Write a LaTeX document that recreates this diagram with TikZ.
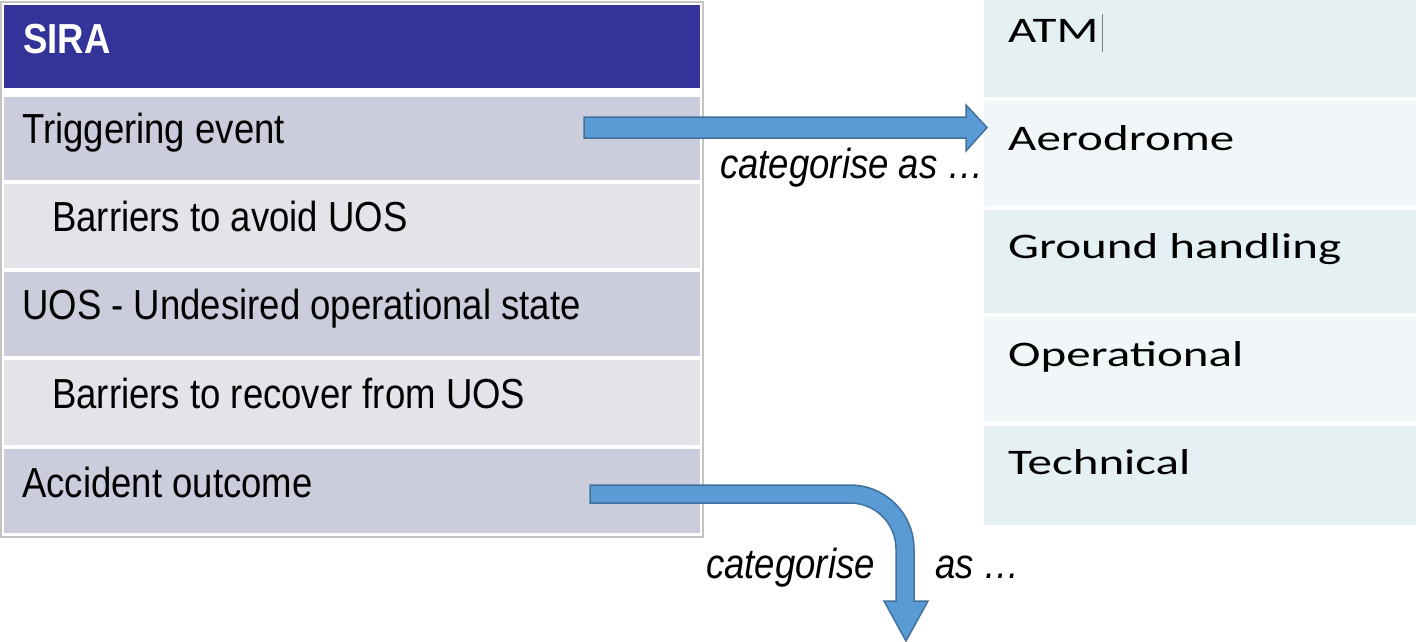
\documentclass[tikz,border=0pt]{standalone}
\usepackage{fontspec}
\setmainfont{Liberation Sans}
\newfontfamily\arialn[FakeStretch=0.87]{Liberation Sans}
\newfontfamily\calw[FakeStretch=1.36]{Carlito}
\definecolor{hdr}{HTML}{333399}
\definecolor{rowdark}{HTML}{CCCDDC}
\definecolor{rowlight}{HTML}{E3E4EA}
\definecolor{catdark}{HTML}{E5F0F3}
\definecolor{catlight}{HTML}{F1F6F9}
\definecolor{arrfill}{HTML}{5B9BD5}
\definecolor{arrline}{HTML}{41719C}
\definecolor{frame}{HTML}{C4C4C4}
\tikzset{
  lefttxt/.style={anchor=base west, inner sep=0pt, text=black, font=\arialn\fontsize{42}{50}\selectfont},
  hdrtxt/.style={anchor=base west, inner sep=0pt, text=white, font=\arialn\bfseries\fontsize{42}{50}\selectfont},
  cattxt/.style={anchor=base west, inner sep=0pt, text=black, font=\calw\fontsize{36}{44}\selectfont},
  lbl/.style={anchor=base west, inner sep=0pt, text=black, font=\arialn\itshape\fontsize{42}{50}\selectfont},
  blockarrow/.style={fill=arrfill, draw=arrline, line width=1.5pt, line join=miter},
}
\begin{document}
\begin{tikzpicture}[x=1pt,y=-1pt]
\useasboundingbox (0,0) rectangle (1416,642);
% left table
\draw[frame, line width=1.2pt] (1,2) rectangle (703,537);
\fill[hdr] (4,5) rectangle (700,88);
\fill[rowdark] (4,97) rectangle (700,180);
\fill[rowlight] (4,184) rectangle (700,268);
\fill[rowdark] (4,272) rectangle (700,356);
\fill[rowlight] (4,360) rectangle (700,445);
\fill[rowdark] (4,449) rectangle (700,533);
\node[hdrtxt] (sira) at (23,53) {SIRA};
\node[lefttxt] (trig) at (22,143) {Triggering event};
\node[lefttxt] (bav) at (52,231) {Barriers to avoid UOS};
\node[lefttxt] (uos) at (22,319) {UOS - Undesired operational state};
\node[lefttxt] (brec) at (52,408) {Barriers to recover from UOS};
\node[lefttxt] (acc) at (22,497) {Accident outcome};
% right table
\fill[catdark] (984,0) rectangle (1416,97);
\fill[catlight] (984,101) rectangle (1416,206);
\fill[catdark] (984,210) rectangle (1416,313);
\fill[catlight] (984,317) rectangle (1416,421);
\fill[catdark] (984,426) rectangle (1416,525);
\node[cattxt] (atm) at (1008,43) {ATM};
\draw[gray, line width=1pt] (1102,14) -- (1102,52);
\node[cattxt] (aero) at (1008,150) {Aerodrome};
\node[cattxt] (gh) at (1008,258) {Ground handling};
\node[cattxt] (op) at (1008,366) {Operational};
\node[cattxt] (tech) at (1008,474) {Technical};
% arrow 1
\coordinate (a1s) at (584,127.5);
\coordinate (a1t) at (987,127.5);
\draw[blockarrow] (584,117) -- (966,117) -- (966,105) -- (a1t) -- (966,151) -- (966,138) -- (584,138) -- cycle;
\node[lbl] (l1) at (720,178) {categorise as …};
% arrow 2
\coordinate (a2s) at (590,494);
\coordinate (a2t) at (906,641);
\draw[blockarrow] (590,485) -- (850,485) arc[start angle=-90, end angle=0, radius=64]
  -- (914,601) -- (928,601) -- (a2t) -- (884,601) -- (896,601) -- (896,549)
  arc[start angle=0, end angle=-90, radius=46] -- (590,503) -- cycle;
\node[lbl] (l2a) at (706,578) {categorise};
\node[lbl] (l2b) at (935,578) {as …};
\end{tikzpicture}
\end{document}
